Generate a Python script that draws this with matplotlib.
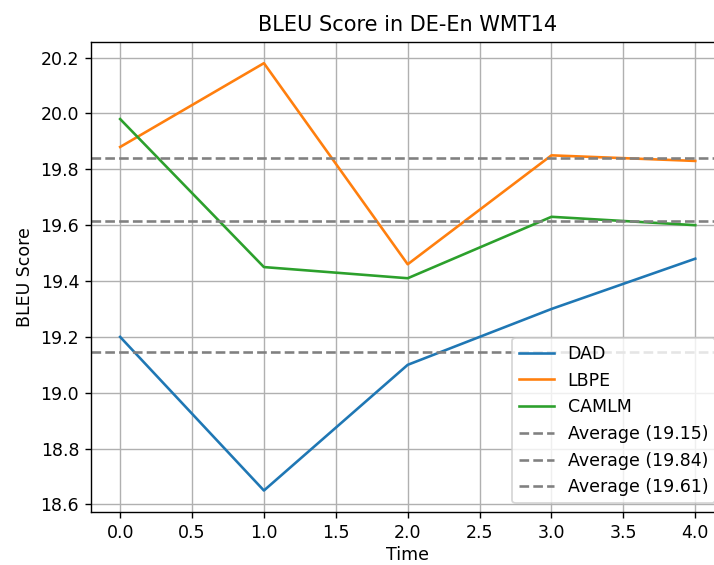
import matplotlib.pyplot as plt

# Data
time = [0, 1, 2, 3, 4]
dad = [19.20, 18.65, 19.10, 19.30, 19.48]
lbpe = [19.88, 20.18, 19.46, 19.85, 19.83]
camlm = [19.98, 19.45, 19.41, 19.63, 19.60]

series = [("DAD", dad), ("LBPE", lbpe), ("CAMLM", camlm)]

# reference looks like a 125 dpi render cropped on the right
fig = plt.figure(figsize=(714 / 125, 565 / 125), dpi=125)
ax = fig.add_axes([0.128, 0.094, 0.886, 0.832])

for name, values in series:
    ax.plot(time, values, label=name)

# Average lines
for name, values in series:
    avg = sum(values) / len(values)
    ax.axhline(avg, color="gray", linestyle="--", label=f"Average ({avg:.2f})")

ax.set_title("BLEU Score in DE-En WMT14")
ax.set_xlabel("Time", labelpad=2)
ax.set_ylabel("BLEU Score")
ax.grid(True)
ax.legend(loc="lower right")

plt.savefig("out.png", dpi=125)
